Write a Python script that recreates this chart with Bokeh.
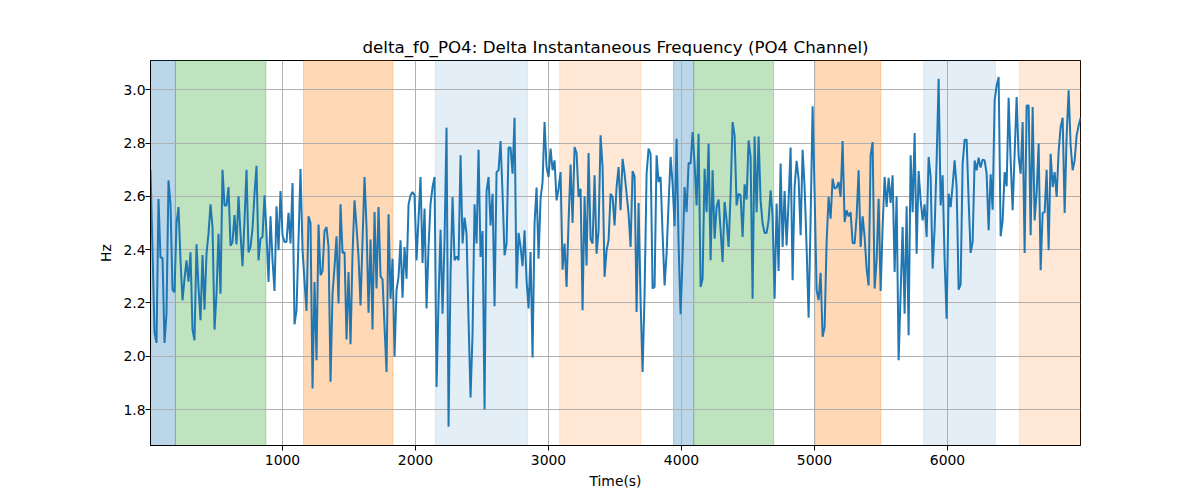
from bokeh.plotting import figure
from bokeh.models import BoxAnnotation, FixedTicker, PrintfTickFormatter, Range1d
from bokeh.embed import file_html
from bokeh.resources import INLINE

# sampling grid of the series (seconds)
T0 = 7.5
DT = 15.04

hz = [
    2.70, 2.40, 2.09, 2.05,
    2.59, 2.37, 2.37, 2.05, 2.16, 2.66, 2.57, 2.25, 2.24, 2.50,
    2.56, 2.36, 2.21, 2.29, 2.36, 2.28, 2.39, 2.10, 2.06, 2.42,
    2.26, 2.135, 2.38, 2.175, 2.385, 2.46, 2.57, 2.485, 2.10, 2.235,
    2.46, 2.235, 2.70, 2.566, 2.566, 2.635, 2.415, 2.429, 2.53, 2.42,
    2.60, 2.46, 2.338, 2.51, 2.70, 2.39, 2.41, 2.479, 2.61, 2.715,
    2.36, 2.441, 2.448, 2.604, 2.46, 2.279, 2.525, 2.36, 2.245, 2.563,
    2.398, 2.62, 2.454, 2.429, 2.429, 2.538, 2.423, 2.65, 2.12, 2.173,
    2.435, 2.703, 2.398,
    2.28,
    2.17, 2.525, 2.50, 1.879, 2.279, 1.985, 2.494, 2.304, 2.32, 2.47,
    2.485, 2.41, 1.904, 2.235, 2.335, 2.45, 2.198, 2.57, 2.388, 2.39,
    2.063, 2.316, 2.045, 2.385, 2.585, 2.485, 2.373, 2.191, 2.435, 2.673,
    2.485, 2.163, 2.438, 2.10, 2.541, 2.254, 2.56, 2.30, 2.288, 2.11,
    1.941, 2.533, 2.216, 2.366, 1.998, 2.248, 2.298, 2.435, 2.22, 2.41,
    2.291, 2.57, 2.604, 2.616, 2.604, 2.36, 2.516, 2.673, 2.35, 2.554,
    2.179, 2.41, 2.573, 2.635, 2.673, 1.885, 2.21, 2.475, 2.16, 2.435,
    2.858, 1.735, 2.31, 2.598, 2.36, 2.375, 2.36, 2.754,
    2.423, 2.52, 2.46, 2.135, 1.845, 2.085, 2.57, 2.423, 2.775, 2.373,
    2.47, 1.80, 2.62, 2.673, 2.491, 2.61, 2.188, 2.691, 2.698, 2.808,
    2.61, 2.379, 2.423, 2.783, 2.783, 2.685, 2.895, 2.254, 2.463, 2.41,
    2.338, 2.473, 2.285, 2.179, 2.391, 1.995, 2.50, 2.633, 2.366, 2.591,
    2.654, 2.879, 2.71, 2.673, 2.779, 2.698, 2.735, 2.585, 2.629, 2.691,
    2.325, 2.423, 2.26, 2.504, 2.72, 2.50, 2.785, 2.763, 2.598, 2.629,
    2.173, 2.60, 2.341, 2.763, 2.441, 2.423, 2.679, 2.385, 2.473, 2.829,
    2.71, 2.298, 2.398, 2.435, 2.61, 2.598, 2.491,
    2.635, 2.71, 2.548, 2.741, 2.685, 2.61, 2.535, 2.41, 2.695, 2.675,
    2.166, 2.575, 2.21, 1.941, 2.235, 2.685, 2.779, 2.76, 2.254, 2.26,
    2.754, 2.654, 2.673, 2.46, 2.266, 2.385, 2.573, 2.748, 2.648, 2.488,
    2.816, 2.423, 2.158, 2.373, 2.635, 2.541, 2.725, 2.723, 2.841, 2.723,
    2.566, 2.835, 2.26, 2.291, 2.704, 2.541, 2.798, 2.36, 2.698, 2.441,
    2.56, 2.588, 2.473, 2.354, 2.579, 2.51, 2.41, 2.61, 2.879, 2.829,
    2.566, 2.61, 2.604, 2.448, 2.645, 2.588, 2.81, 2.748, 2.216, 2.825,
    2.541, 2.825, 2.585, 2.498, 2.463, 2.463, 2.51, 2.623,
    2.523, 2.216, 2.573, 2.32, 2.723, 2.41, 2.62, 2.416, 2.585, 2.783,
    2.285, 2.635, 2.733, 2.666, 2.454, 2.775, 2.635, 2.41, 2.145, 2.51,
    2.938, 2.61, 2.248, 2.21, 2.313, 2.073, 2.11, 2.429, 2.598, 2.516,
    2.666, 2.629, 2.633, 2.654, 2.598, 2.808, 2.504, 2.548, 2.525, 2.541,
    2.425, 2.423, 2.523, 2.698, 2.41, 2.525, 2.448, 2.329, 2.266, 2.754,
    2.804, 2.254, 2.36, 2.591, 2.245, 2.485, 2.673, 2.56, 2.67, 2.575,
    2.679, 2.316, 2.60, 1.985, 2.235, 2.485, 2.16, 2.563, 2.079, 2.754,
    2.541, 2.838, 2.385, 2.695, 2.585, 2.51, 2.57,
    2.448, 2.748, 2.673, 2.329, 2.479, 2.735, 3.041, 2.566, 2.679, 2.36,
    2.141, 2.61, 2.56, 2.641, 2.735, 2.635, 2.25, 2.27, 2.723, 2.813,
    2.813, 2.585, 2.388, 2.429, 2.735, 2.698, 2.745, 2.708, 2.738, 2.735,
    2.685, 2.473, 2.683, 2.55, 2.96, 3.016, 3.048, 2.45, 2.51, 2.691,
    2.638, 2.97, 2.735, 2.548, 2.76, 2.973, 2.748, 2.685, 2.879, 2.388,
    2.941, 2.941, 2.454, 2.935, 2.51, 2.616, 2.798, 2.323, 2.538, 2.541,
    2.70, 2.398, 2.76, 2.635, 2.691, 2.598, 2.77, 2.86, 2.895, 2.538,
    2.829, 2.998, 2.791, 2.698, 2.735, 2.829, 2.866, 2.895,
]
times = [T0 + DT * i for i in range(len(hz))]

span_start = [7.5, 195, 1158, 2150, 3084, 3940, 4092, 5008, 5821, 6541]
span_end = [195, 875, 1830, 2841, 3695, 4092, 4693, 5499, 6360, 7000]
span_color = ["#1f77b4", "#2ca02c", "#ff7f0e", "#1f77b4", "#ff7f0e",
              "#1f77b4", "#2ca02c", "#ff7f0e", "#1f77b4", "#ff7f0e"]
span_alpha = [0.3, 0.3, 0.3, 0.12, 0.17, 0.3, 0.3, 0.3, 0.12, 0.17]

x_ticks = [1000, 2000, 3000, 4000, 5000, 6000]
y_ticks = [1.8, 2.0, 2.2, 2.4, 2.6, 2.8, 3.0]

FONT = "DejaVu Sans"

p = figure(width=1184, height=492, output_backend="svg", toolbar_location=None,
           x_range=Range1d(7.5, 7000), y_range=Range1d(1.665, 3.11),
           min_border_left=150, min_border_right=104,
           min_border_top=60, min_border_bottom=47,
           title="delta_f0_PO4: Delta Instantaneous Frequency (PO4 Channel)")
p.title.align = "center"
p.title.text_font = FONT
p.title.text_font_size = "16.7px"
p.title.text_font_style = "normal"
p.title.text_color = "black"
p.title.standoff = 8

for s, e, c, a in zip(span_start, span_end, span_color, span_alpha):
    p.add_layout(BoxAnnotation(left=s, right=e, fill_color=c, fill_alpha=a,
                               line_color=c, line_alpha=a, line_width=1,
                               level="image"))

p.line(times, hz, line_color="#1f77b4", line_width=2)

p.xaxis.ticker = FixedTicker(ticks=x_ticks)
p.yaxis.ticker = FixedTicker(ticks=y_ticks)
p.xaxis.formatter = PrintfTickFormatter(format="%d")
p.yaxis.formatter = PrintfTickFormatter(format="%.1f")
p.xaxis.axis_label = "Time(s)"
p.yaxis.axis_label = "Hz"

for ax in (p.xaxis, p.yaxis):
    ax.axis_label_text_font = FONT
    ax.axis_label_text_font_size = "13.9px"
    ax.axis_label_text_font_style = "normal"
    ax.axis_label_text_color = "black"
    ax.major_label_text_font = FONT
    ax.major_label_text_font_size = "13.9px"
    ax.major_label_text_color = "black"
    ax.major_tick_in = 0
    ax.major_tick_out = 5
    ax.minor_tick_in = 0
    ax.minor_tick_out = 0
    ax.axis_line_color = "black"
    ax.major_tick_line_color = "black"

p.xaxis.major_label_standoff = 4
p.xaxis.axis_label_standoff = 5
p.yaxis.major_label_standoff = 0
p.yaxis.axis_label_standoff = 6

p.xgrid.grid_line_color = "#b0b0b0"
p.ygrid.grid_line_color = "#b0b0b0"
p.xgrid.grid_line_width = 1
p.ygrid.grid_line_width = 1
p.outline_line_color = "black"
p.outline_line_width = 1
p.background_fill_color = "white"
p.border_fill_color = "white"

open("out.html", "w").write(file_html(p, INLINE))
